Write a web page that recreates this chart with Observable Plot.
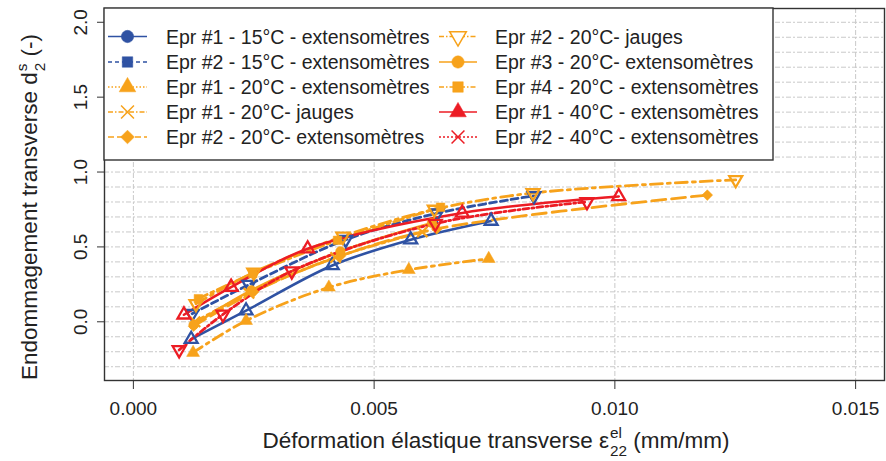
<!DOCTYPE html>
<html><head><meta charset="utf-8">
<script src="https://cdn.jsdelivr.net/npm/d3@7"></script>
<script src="https://cdn.jsdelivr.net/npm/@observablehq/plot@0.6"></script>
<style>
body{margin:0;background:#fff;}
#chart{width:886px;height:461px;}
svg{font-family:"Liberation Sans",Arial,sans-serif;}
</style></head><body><div id="chart"></div>
<script>
// ---------- data ----------
const seriesNames = [
  "Epr #1 - 15°C - extensomètres",
  "Epr #2 - 15°C - extensomètres",
  "Epr #1 - 20°C - extensomètres",
  "Epr #1 - 20°C- jauges",
  "Epr #2 - 20°C- extensomètres",
  "Epr #2 - 20°C- jauges",
  "Epr #3 - 20°C- extensomètres",
  "Epr #4 - 20°C - extensomètres",
  "Epr #1 - 40°C - extensomètres",
  "Epr #2 - 40°C - extensomètres"
];
const xTicks = [0, 0.005, 0.010, 0.015];
const yTicks = [0.0, 0.5, 1.0, 1.5, 2.0];

const x_e1_15 = [0.00120, 0.00234, 0.00413, 0.00576, 0.00743];
const y_e1_15 = [-0.116, 0.074, 0.376, 0.548, 0.673];
const x_e2_15 = [0.00122, 0.00240, 0.00441, 0.00631, 0.00832];
const y_e2_15 = [0.054, 0.248, 0.548, 0.725, 0.841];
const x_e1_20 = [0.00124, 0.00234, 0.00406, 0.00572, 0.00738];
const y_e1_20 = [-0.206, 0.007, 0.230, 0.347, 0.421];
const x_e1_20j = [0.00128, 0.00240, 0.00420, 0.00600];
const y_e1_20j = [0.000, 0.190, 0.430, 0.600];
const x_e2_20 = [0.00125, 0.00250, 0.00430, 0.00630, 0.01192];
const y_e2_20 = [-0.030, 0.200, 0.440, 0.620, 0.846];
const x_e2_20j = [0.00130, 0.00250, 0.00435, 0.00625, 0.00830, 0.01251];
const y_e2_20j = [0.120, 0.330, 0.570, 0.750, 0.860, 0.948];
const x_e3_20 = [0.00125, 0.00245, 0.00430, 0.00620];
const y_e3_20 = [-0.020, 0.210, 0.470, 0.660];
const x_e4_20 = [0.00135, 0.00248, 0.00424, 0.00638];
const y_e4_20 = [0.154, 0.322, 0.544, 0.765];
const x_e1_40 = [0.00105, 0.00203, 0.00362, 0.00683, 0.01008];
const y_e1_40 = [0.047, 0.232, 0.488, 0.727, 0.837];
const x_e2_40 = [0.00095, 0.00186, 0.00329, 0.00627, 0.00942];
const y_e2_40 = [-0.188, 0.049, 0.338, 0.656, 0.801];

const seriesX = [x_e1_15, x_e2_15, x_e1_20, x_e1_20j, x_e2_20, x_e2_20j, x_e3_20, x_e4_20, x_e1_40, x_e2_40];
const seriesY = [y_e1_15, y_e2_15, y_e1_20, y_e1_20j, y_e2_20, y_e2_20j, y_e3_20, y_e4_20, y_e1_40, y_e2_40];

// ---------- styles ----------
const BLUE = "#2f52a3", ORANGE = "#f7a21b", RED = "#ec1c24";
const sqrt3 = Math.sqrt(3);
const triDown = {draw(c, size) {
  const y = -Math.sqrt(size / (sqrt3 * 3));
  c.moveTo(0, -y * 2); c.lineTo(-sqrt3 * y, y); c.lineTo(sqrt3 * y, y); c.closePath();
}};
const triUp = d3.symbolTriangle;
const styles = [
  {c: BLUE,   dash: null,          w: 2.6, sym: triUp,   fill: false, lsym: d3.symbolCircle,  ldash: null},
  {c: BLUE,   dash: "7,4",         w: 2.8, sym: triDown, fill: false, lsym: d3.symbolSquare,  ldash: "4,3"},
  {c: ORANGE, dash: "11,5,3,5",    w: 2.8, sym: triUp,   fill: true,  lsym: triUp,            ldash: "1.5,2"},
  {c: ORANGE, dash: "10,4,3,4",    w: 2.8, sym: d3.symbolTimes, fill: false, lsym: d3.symbolTimes, ldash: "5,2,1.5,2"},
  {c: ORANGE, dash: "14,6",        w: 2.8, sym: d3.symbolDiamond2, fill: true, lsym: d3.symbolDiamond2, ldash: "6,3"},
  {c: ORANGE, dash: "12,5,3,5",    w: 2.8, sym: triDown, fill: false, lsym: triDown,          ldash: "5,2,1.5,2"},
  {c: ORANGE, dash: null,          w: 2.6, sym: d3.symbolCircle, fill: true, lsym: d3.symbolCircle, ldash: null},
  {c: ORANGE, dash: "10,4,3,4",    w: 2.8, sym: d3.symbolSquare, fill: true, lsym: d3.symbolSquare, ldash: "5,2,1.5,2"},
  {c: RED,    dash: null,          w: 2.6, sym: triUp,   fill: false, lsym: triUp,            ldash: null},
  {c: RED,    dash: "6,3,2,3",     w: 2.8, sym: triDown, fill: false, lsym: d3.symbolTimes,   ldash: "2,2"}
];
const legendFilled = [true, true, true, false, true, false, true, true, true, false];

const rows = [];
seriesNames.forEach((name, i) => seriesX[i].forEach((x, j) => rows.push({series: name, i, x, y: seriesY[i][j]})));

const order = [0, 1, 2, 3, 4, 5, 6, 7, 8, 9];
const dataMarks = [];
for (const i of order) {
  const s = styles[i];
  const d = rows.filter(r => r.i === i);
  dataMarks.push(Plot.line(d, {x: "x", y: "y", stroke: s.c, strokeWidth: s.w, strokeDasharray: s.dash, curve: "catmull-rom"}));
}
for (const i of order) {
  const s = styles[i];
  const d = rows.filter(r => r.i === i);
  dataMarks.push(Plot.dot(d, {x: "x", y: "y", symbol: s.sym, r: 4.8,
    fill: s.fill ? s.c : "none", stroke: s.c, strokeWidth: s.fill ? 0.5 : 2.3}));
}

const chart = Plot.plot({
  width: 886, height: 461,
  marginLeft: 104, marginRight: 2, marginTop: 8, marginBottom: 81,
  style: {fontFamily: "Liberation Sans, Arial, sans-serif", color: "#222", background: "#fff"},
  x: {domain: [-0.0006, 0.0156]},
  y: {domain: [-0.392, 2.092]},
  marks: [
    Plot.gridY(d3.range(-3, 21).map(d => d / 10), {stroke: "#c9c9c9", strokeOpacity: 1, strokeWidth: 1, strokeDasharray: "5,2,2,2"}),
    Plot.gridX(xTicks, {stroke: "#c9c9c9", strokeOpacity: 1, strokeWidth: 1, strokeDasharray: "5,2,2,2"}),
    ...dataMarks,
    Plot.frame({stroke: "#333", strokeWidth: 1.4}),
    Plot.axisX({ticks: xTicks, tickFormat: d3.format(".3f"), tickSize: 9, tickPadding: 12, fontSize: 19, label: null, stroke: "#333"}),
    Plot.axisY({ticks: yTicks, tickSize: 7, tickFormat: () => "", label: null, stroke: "#333"}),
    Plot.text(yTicks, {y: d => d, text: d => d3.format(".1f")(d), frameAnchor: "left", dx: -24, rotate: -90, fontSize: 19, fill: "#222", textAnchor: "middle", lineAnchor: "middle"})
  ]
});
document.getElementById("chart").appendChild(chart);

const svg = d3.select(chart);

// ---------- legend ----------
const lg = svg.append("g").attr("text-anchor", "start");
lg.append("rect").attr("x", 104).attr("y", 8).attr("width", 669).attr("height", 152)
  .attr("fill", "#fff").attr("stroke", "#333").attr("stroke-width", 1.4);
const rowY = [36.5, 62, 87, 112, 137];
seriesNames.forEach((name, i) => {
  const col = i < 5 ? 0 : 1, r = i % 5;
  const s = styles[i];
  const x0 = col === 0 ? 108 : 439, x1 = col === 0 ? 147 : 477, xm = (x0 + x1) / 2;
  const tx = col === 0 ? 166 : 495;
  const y = rowY[r];
  lg.append("line").attr("x1", x0).attr("x2", x1).attr("y1", y).attr("y2", y)
    .attr("stroke", s.c).attr("stroke-width", 1.4).attr("stroke-dasharray", s.ldash);
  const filled = legendFilled[i];
  const size = s.lsym === d3.symbolSquare ? 110 : s.lsym === d3.symbolTimes ? 110 : 120;
  lg.append("path").attr("d", d3.symbol(s.lsym, size)()).attr("transform", `translate(${xm},${y})`)
    .attr("fill", filled ? s.c : "#fff").attr("stroke", s.c).attr("stroke-width", filled ? 0.5 : 1.5);
  lg.append("text").attr("x", tx).attr("y", y + 7).attr("font-size", 19.5).attr("fill", "#222")
    .attr("text-anchor", "start").text(name);
});

// ---------- axis titles with sub/superscripts ----------
function richTitle(g, main, sup, sub, tail, size) {
  g.attr("text-anchor", "start");
  const mk = (t, fs) => g.append("text").attr("font-size", fs).attr("fill", "#222").attr("text-anchor", "start").text(t);
  const t1 = mk(main, size), t2 = mk(sup, size * 0.68), t3 = mk(sub, size * 0.68), t4 = mk(tail, size);
  const w1 = t1.node().getComputedTextLength();
  const w2 = Math.max(t2.node().getComputedTextLength(), t3.node().getComputedTextLength());
  const w4 = t4.node().getComputedTextLength();
  const W = w1 + 1 + w2 + w4;
  const x0 = -W / 2;
  t1.attr("x", x0).attr("y", 0);
  t2.attr("x", x0 + w1 + 1).attr("y", -size * 0.45);
  t3.attr("x", x0 + w1 + 1).attr("y", size * 0.36);
  t4.attr("x", x0 + w1 + 1 + w2).attr("y", 0);
}
richTitle(svg.append("g").attr("transform", "translate(496,448)"),
  "Déformation élastique transverse ε", "el", "22", " (mm/mm)", 22.5);
richTitle(svg.append("g").attr("transform", "translate(37,207) rotate(-90)"),
  "Endommagement transverse d", "s", "2", " (-)", 22.5);
</script></body></html>
